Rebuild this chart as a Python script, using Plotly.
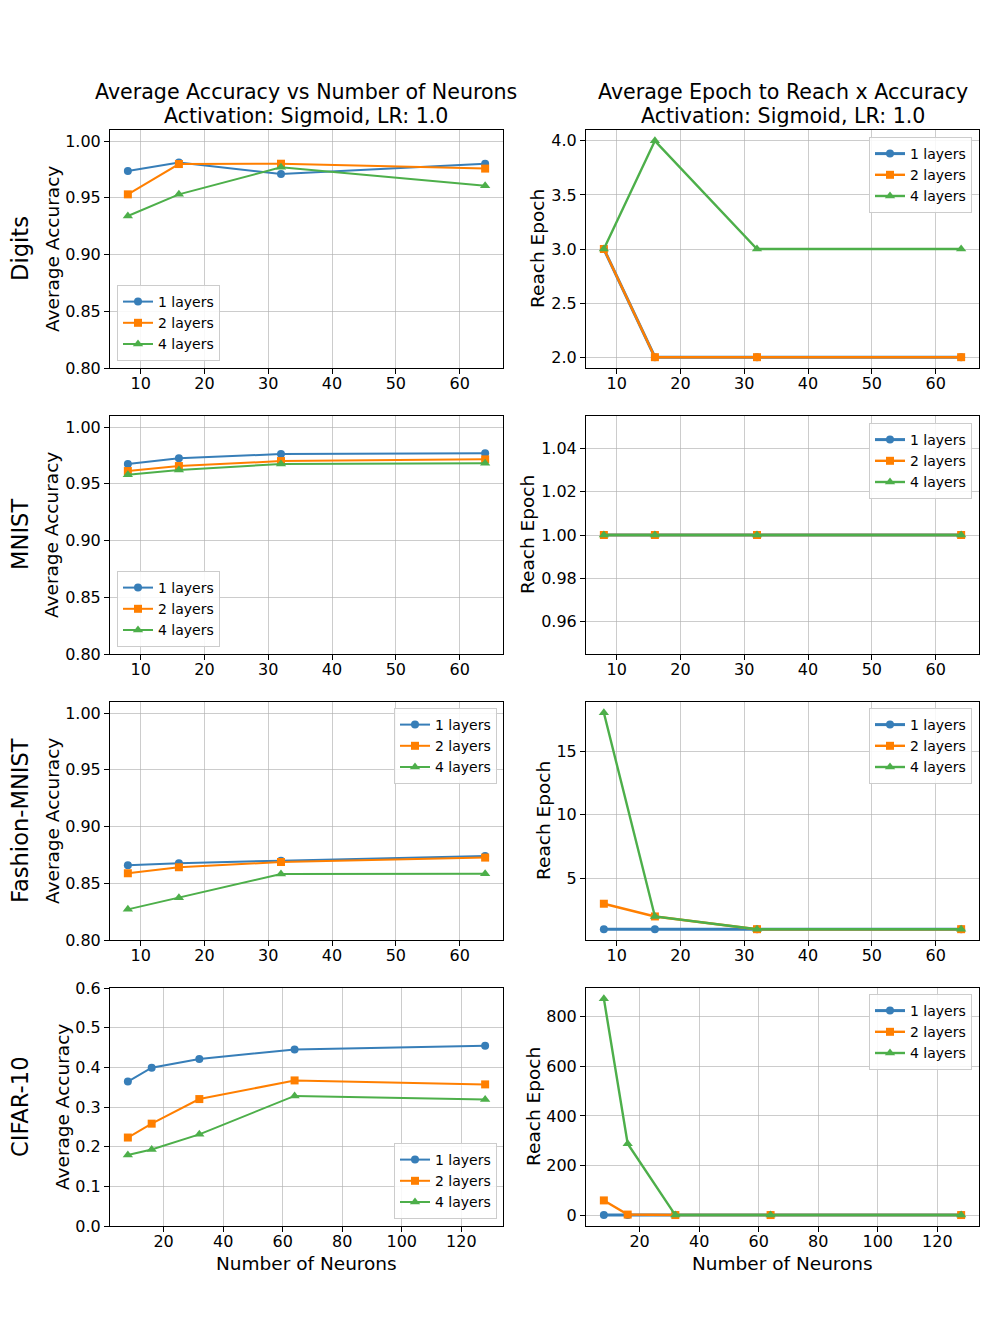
import plotly.graph_objects as go
from plotly.subplots import make_subplots

# ---------------- data ----------------
neurons_small = [8, 16, 32, 64]
neurons_cifar = [8, 16, 32, 64, 128]
layer_names = ["1 layers", "2 layers", "4 layers"]

digits_acc_1 = [0.9736, 0.9810, 0.9709, 0.9800]
digits_acc_2 = [0.9530, 0.9797, 0.9800, 0.9757]
digits_acc_4 = [0.9339, 0.9530, 0.9768, 0.9605]
digits_ep_1 = [3, 2, 2, 2]
digits_ep_2 = [3, 2, 2, 2]
digits_ep_4 = [3, 4, 3, 3]

mnist_acc_1 = [0.9674, 0.9724, 0.9762, 0.9768]
mnist_acc_2 = [0.9612, 0.9656, 0.9700, 0.9715]
mnist_acc_4 = [0.9580, 0.9621, 0.9674, 0.9680]
mnist_ep_1 = [1, 1, 1, 1]
mnist_ep_2 = [1, 1, 1, 1]
mnist_ep_4 = [1, 1, 1, 1]

fashion_acc_1 = [0.8658, 0.8676, 0.8699, 0.8740]
fashion_acc_2 = [0.8588, 0.8641, 0.8687, 0.8726]
fashion_acc_4 = [0.8270, 0.8372, 0.8581, 0.8584]
fashion_ep_1 = [1, 1, 1, 1]
fashion_ep_2 = [3, 2, 1, 1]
fashion_ep_4 = [18, 2, 1, 1]

cifar_acc_1 = [0.364, 0.399, 0.421, 0.445, 0.4545]
cifar_acc_2 = [0.223, 0.258, 0.320, 0.367, 0.357]
cifar_acc_4 = [0.179, 0.193, 0.231, 0.328, 0.319]
cifar_ep_1 = [1, 1, 1, 1, 1]
cifar_ep_2 = [60, 3, 1, 1, 1]
cifar_ep_4 = [872, 288, 1, 1, 1]

row_labels = ["Digits", "MNIST", "Fashion-MNIST", "CIFAR-10"]
col_titles = [["Average Accuracy vs Number of Neurons", "Activation: Sigmoid, LR: 1.0"],
              ["Average Epoch to Reach x Accuracy", "Activation: Sigmoid, LR: 1.0"]]

# ---------------- styles ----------------
W, H = 997, 1329
colors = ["#377eb8", "#ff7f00", "#4daf4a"]
symbols = ["circle", "square", "triangle-up"]
FONT = "DejaVu Sans"

rows = [
    (neurons_small, [digits_acc_1, digits_acc_2, digits_acc_4], [digits_ep_1, digits_ep_2, digits_ep_4]),
    (neurons_small, [mnist_acc_1, mnist_acc_2, mnist_acc_4], [mnist_ep_1, mnist_ep_2, mnist_ep_4]),
    (neurons_small, [fashion_acc_1, fashion_acc_2, fashion_acc_4], [fashion_ep_1, fashion_ep_2, fashion_ep_4]),
    (neurons_cifar, [cifar_acc_1, cifar_acc_2, cifar_acc_4], [cifar_ep_1, cifar_ep_2, cifar_ep_4]),
]

fig = make_subplots(rows=4, cols=2)

# screen-pixel -> paper conversion (calibrated against the rendered page)
X_OFF, Y_OFF, PLOT_H = 8.0, 17.0, 1310.0

def px_x(p):
    return (p - X_OFF) / W

def px_y(p):
    return 1 - (p - Y_OFF) / PLOT_H

col_dom = [(px_x(110), px_x(503)), (px_x(586), px_x(979))]
row_px = [(130, 368), (416, 654), (702, 940), (988, 1226)]

legend_idx = 0
legend_specs = [
    (px_x(117), px_y(361), "left", "bottom"), (px_x(972), px_y(137), "right", "top"),
    (px_x(117), px_y(647), "left", "bottom"), (px_x(972), px_y(423), "right", "top"),
    (px_x(497), px_y(708), "right", "top"), (px_x(972), px_y(708), "right", "top"),
    (px_x(497), px_y(1219), "right", "bottom"), (px_x(972), px_y(994), "right", "top"),
]

layout_legends = {}
for r, (xs, accs, eps) in enumerate(rows):
    for c, series in enumerate([accs, eps]):
        legend_idx += 1
        lname = "legend" if legend_idx == 1 else f"legend{legend_idx}"
        for i, ys in enumerate(series):
            lw = 2 if c == 0 else (3 if i == 0 else 2.4)
            fig.add_trace(go.Scatter(
                x=xs, y=ys, mode="lines+markers", name=layer_names[i],
                line=dict(color=colors[i], width=lw),
                marker=dict(color=colors[i], symbol=symbols[i], size=8 if i < 2 else 9),
                legend=lname, showlegend=True,
            ), row=r + 1, col=c + 1)
        lx, ly, xa, ya = legend_specs[legend_idx - 1]
        layout_legends[lname] = dict(
            x=lx, y=ly, xanchor=xa, yanchor=ya, xref="paper", yref="paper",
            bgcolor="rgba(255,255,255,0.85)", bordercolor="#cccccc", borderwidth=1,
            font=dict(family=FONT, size=14, color="black"),
            itemwidth=30, tracegroupgap=0,
        )

fig.update_layout(**layout_legends)

grid_color = "rgba(176,176,176,0.65)"
axis_common = dict(
    showline=True, mirror=True, linecolor="black", linewidth=1,
    ticks="outside", ticklen=5, tickcolor="black", tickwidth=1,
    showgrid=True, gridcolor=grid_color, gridwidth=1,
    zeroline=False, tickfont=dict(family=FONT, size=16, color="black"),
)

yconf = [
    (dict(range=[0.8, 1.0097], tickvals=[0.80, 0.85, 0.90, 0.95, 1.00], tickformat=".2f"),
     dict(range=[1.9, 4.1], tickvals=[2.0, 2.5, 3.0, 3.5, 4.0], tickformat=".1f")),
    (dict(range=[0.8, 1.0097], tickvals=[0.80, 0.85, 0.90, 0.95, 1.00], tickformat=".2f"),
     dict(range=[0.945, 1.055], tickvals=[0.96, 0.98, 1.00, 1.02, 1.04], tickformat=".2f")),
    (dict(range=[0.8, 1.0097], tickvals=[0.80, 0.85, 0.90, 0.95, 1.00], tickformat=".2f"),
     dict(range=[0.15, 18.85], tickvals=[5, 10, 15])),
    (dict(range=[0.0, 0.6], tickvals=[0.0, 0.1, 0.2, 0.3, 0.4, 0.5, 0.6], tickformat=".1f"),
     dict(range=[-43, 915], tickvals=[0, 200, 400, 600, 800])),
]
xconf_small = dict(range=[5.2, 66.8], tickvals=[10, 20, 30, 40, 50, 60])
xconf_cifar = dict(range=[2, 134], tickvals=[20, 40, 60, 80, 100, 120])

for r in range(4):
    for c in range(2):
        xc = xconf_cifar if r == 3 else xconf_small
        fig.update_xaxes(domain=list(col_dom[c]), ticklabelstandoff=-4, **xc, **axis_common,
                         row=r + 1, col=c + 1)
        top, bot = row_px[r]
        fig.update_yaxes(domain=[px_y(bot), px_y(top)], **yconf[r][c], **axis_common,
                         row=r + 1, col=c + 1)

annotations = []
for c in range(2):
    cx = (col_dom[c][0] + col_dom[c][1]) / 2
    for line, ypx in zip(col_titles[c], [92, 116]):
        annotations.append(dict(text=line, x=cx, y=px_y(ypx), xref="paper", yref="paper",
                                xanchor="center", yanchor="middle", showarrow=False,
                                font=dict(family=FONT, size=20.6, color="black")))
for r in range(4):
    top, bot = row_px[r]
    annotations.append(dict(text=row_labels[r], x=px_x(20), y=px_y((top + bot) / 2),
                            xref="paper", yref="paper", xanchor="center", yanchor="middle",
                            textangle=-90, showarrow=False,
                            font=dict(family=FONT, size=22.6, color="black")))
left_title_x = [52, 52, 52, 62]
right_title_x = [537, 528, 543, 533]
for r in range(4):
    top, bot = row_px[r]
    annotations.append(dict(text="Average Accuracy", x=px_x(left_title_x[r]), y=px_y((top + bot) / 2),
                            xref="paper", yref="paper", xanchor="center", yanchor="middle",
                            textangle=-90, showarrow=False,
                            font=dict(family=FONT, size=18.5, color="black")))
    annotations.append(dict(text="Reach Epoch", x=px_x(right_title_x[r]), y=px_y((top + bot) / 2),
                            xref="paper", yref="paper", xanchor="center", yanchor="middle",
                            textangle=-90, showarrow=False,
                            font=dict(family=FONT, size=18.5, color="black")))
for c in range(2):
    cx = (col_dom[c][0] + col_dom[c][1]) / 2
    annotations.append(dict(text="Number of Neurons", x=cx, y=px_y(1263), xref="paper", yref="paper",
                            xanchor="center", yanchor="middle", showarrow=False,
                            font=dict(family=FONT, size=18.5, color="black")))

fig.update_layout(
    width=W, height=H, margin=dict(l=0, r=0, t=0, b=0),
    paper_bgcolor="white", plot_bgcolor="white",
    font=dict(family=FONT, color="black"),
    annotations=annotations,
)

fig.write_html("out.html")
